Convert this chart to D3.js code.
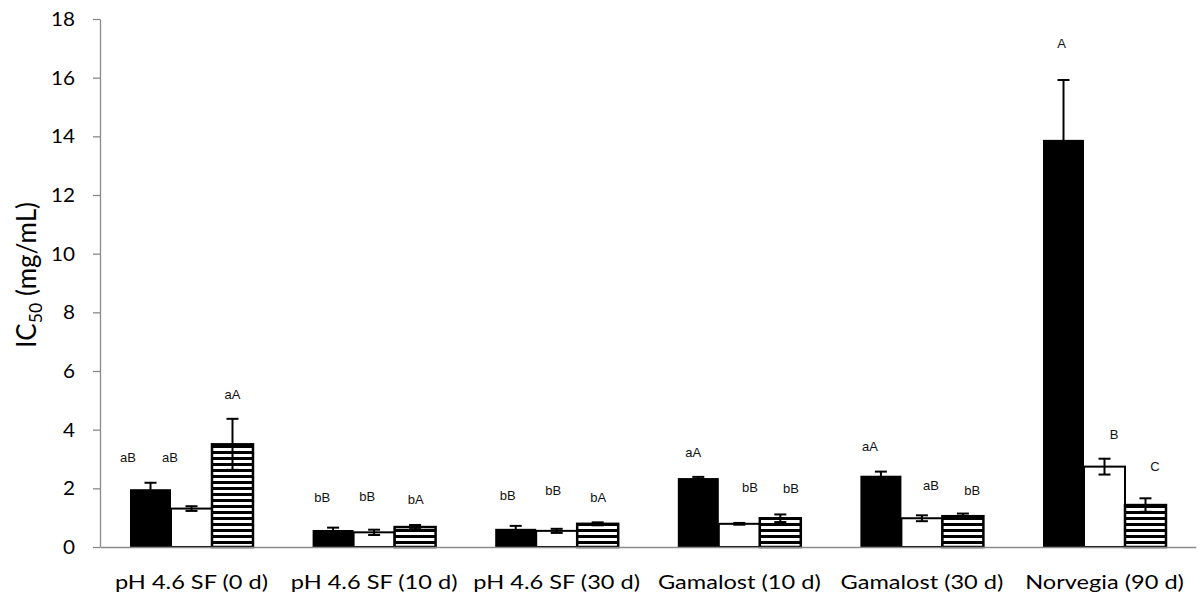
<!DOCTYPE html>
<html>
<head>
<meta charset="utf-8">
<script src="https://cdn.jsdelivr.net/npm/d3@7"></script>
<style>
  html, body { margin: 0; padding: 0; background: #fff; }
  svg { display: block; }
</style>
</head>
<body>
<svg id="chart" width="1201" height="605"></svg>
<script>
// ---- data -------------------------------------------------------------
const categories = [
  "pH 4.6 SF (0 d)", "pH 4.6 SF (10 d)", "pH 4.6 SF (30 d)",
  "Gamalost (10 d)", "Gamalost (30 d)", "Norvegia (90 d)"
];
const seriesKeys = ["solid", "open", "hatched"];

// IC50 means (mg/mL) and their error bars
const solidValues   = [1.97, 0.58, 0.62, 2.35, 2.43, 13.88];
const solidErrors   = [0.22, 0.08, 0.10, 0.04, 0.14, 2.04];
const openValues    = [1.31, 0.50, 0.55, 0.79, 0.98, 2.74];
const openErrors    = [0.08, 0.09, 0.07, 0.03, 0.10, 0.27];
const hatchedValues = [3.50, 0.68, 0.79, 0.98, 1.05, 1.43];
const hatchedErrors = [0.87, 0.07, 0.05, 0.13, 0.09, 0.23];

// significance letters above each bar
const solidLetters   = ["aB", "bB", "bB", "aA", "aA", "A"];
const openLetters    = ["aB", "bB", "bB", "bB", "aB", "B"];
const hatchedLetters = ["aA", "bA", "bA", "bB", "bB", "C"];

const yTicks = [0, 2, 4, 6, 8, 10, 12, 14, 16, 18];

// ---- letter placement (height in mg/mL, horizontal nudge in px) --------
const solidLetterAt   = [3.05, 1.68, 1.75, 3.21, 3.44, 17.17];
const openLetterAt    = [3.05, 1.72, 1.94, 2.03, 2.08, 3.85];
const hatchedLetterAt = [5.20, 1.63, 1.69, 2.01, 1.94, 2.76];
const solidLetterDx   = [-22.5, -10.8, -8.0, -5.0, -10.9, -1.8];
const openLetterDx    = [-21.5, -6.8, -3.4, 10.7, 9.0, 9.5];
const hatchedLetterDx = [0.0, 0.6, 0.6, 10.7, 9.4, 9.5];

// ---- setup ------------------------------------------------------------
const svg = d3.select("#chart");
const AXIS_GREY = "#8a8a8a";
const TICK_FONT = "Lato, 'Open Sans', sans-serif";
const LETTER_FONT = "'Liberation Sans', Arial, sans-serif";

const y = d3.scaleLinear().domain([0, 18]).range([547, 19]);
const x0 = d3.scaleBand().domain(categories).range([100.2, 1195.8]);
const x1 = d3.scaleBand().domain(seriesKeys).range([0, x0.bandwidth()])
  .paddingInner(0).paddingOuter(0.727);

const series = [
  { key: "solid",   values: solidValues,   errors: solidErrors,   letters: solidLetters,   at: solidLetterAt,   dx: solidLetterDx,   fill: "#000", stroke: "none", sw: 0 },
  { key: "open",    values: openValues,    errors: openErrors,    letters: openLetters,    at: openLetterAt,    dx: openLetterDx,    fill: "#fff", stroke: "#000", sw: 2 },
  { key: "hatched", values: hatchedValues, errors: hatchedErrors, letters: hatchedLetters, at: hatchedLetterAt, dx: hatchedLetterDx, fill: "url(#hstripe)", stroke: "#000", sw: 2.5 }
];

// horizontal stripe fill
const defs = svg.append("defs");
const pat = defs.append("pattern")
  .attr("id", "hstripe")
  .attr("patternUnits", "userSpaceOnUse")
  .attr("width", 10).attr("height", 6)
  .attr("y", y(0));
pat.append("rect").attr("width", 10).attr("height", 6).attr("fill", "#fff");
pat.append("rect").attr("y", 0).attr("width", 10).attr("height", 3).attr("fill", "#000");

// ---- bars -------------------------------------------------------------
const rows = series.flatMap(s => categories.map((c, i) => ({
  s, cat: c, v: s.values[i], e: s.errors[i], letter: s.letters[i], at: s.at[i], dx: s.dx[i]
})));

const barG = svg.append("g").attr("class", "bars");
series.forEach(s => {
  barG.selectAll(null)
    .data(rows.filter(r => r.s === s))
    .join("rect")
    .attr("x", d => x0(d.cat) + x1(s.key))
    .attr("y", d => y(d.v))
    .attr("width", x1.bandwidth())
    .attr("height", d => y(0) - y(d.v))
    .attr("fill", s.fill)
    .attr("stroke", s.stroke)
    .attr("stroke-width", s.sw);
});

// ---- error bars -------------------------------------------------------
const cx = d => x0(d.cat) + x1(d.s.key) + x1.bandwidth() / 2;
const CAP = 6;
const errG = svg.append("g").attr("class", "errors")
  .attr("stroke", "#000").attr("stroke-width", 2).attr("fill", "none");
const eb = errG.selectAll("g").data(rows).join("g");
eb.append("line")
  .attr("x1", cx).attr("x2", cx)
  .attr("y1", d => y(d.v + d.e)).attr("y2", d => y(Math.max(0, d.v - d.e)));
eb.append("line")
  .attr("x1", d => cx(d) - CAP).attr("x2", d => cx(d) + CAP)
  .attr("y1", d => y(d.v + d.e)).attr("y2", d => y(d.v + d.e));
eb.append("line")
  .attr("x1", d => cx(d) - CAP).attr("x2", d => cx(d) + CAP)
  .attr("y1", d => y(Math.max(0, d.v - d.e))).attr("y2", d => y(Math.max(0, d.v - d.e)));

// ---- letters ----------------------------------------------------------
svg.append("g").attr("class", "letters")
  .selectAll("text").data(rows).join("text")
  .attr("x", d => cx(d) + d.dx)
  .attr("y", d => y(d.at))
  .attr("text-anchor", "middle")
  .attr("dominant-baseline", "central")
  .attr("font-family", LETTER_FONT)
  .attr("font-size", 13)
  .attr("fill", "#111")
  .text(d => d.letter);

// ---- axes -------------------------------------------------------------
const yAxisG = svg.append("g")
  .attr("transform", `translate(100,0)`)
  .call(d3.axisLeft(y).tickValues(yTicks).tickSize(7).tickPadding(18).tickSizeOuter(0));
yAxisG.select(".domain").attr("stroke", AXIS_GREY).attr("stroke-width", 1.3);
yAxisG.selectAll(".tick line").attr("stroke", AXIS_GREY).attr("stroke-width", 1.3);
yAxisG.selectAll(".tick text")
  .attr("font-family", TICK_FONT).attr("font-size", 20).attr("fill", "#000");

const xAxisG = svg.append("g")
  .attr("transform", `translate(0,${y(0)})`)
  .call(d3.axisBottom(x0).tickSize(0).tickPadding(28).tickSizeOuter(0));
xAxisG.select(".domain").attr("stroke", AXIS_GREY).attr("stroke-width", 1.3);
xAxisG.selectAll(".tick text")
  .attr("font-family", TICK_FONT).attr("font-size", 19.5).attr("fill", "#000");

// widen tick text to the chart's wide lettering
function stretch(sel, factor) {
  sel.each(function () {
    const w = this.getComputedTextLength();
    d3.select(this).attr("textLength", w * factor).attr("lengthAdjust", "spacingAndGlyphs");
  });
}
const catFirst = xAxisG.select(".tick text").node();
stretch(xAxisG.selectAll(".tick text"), 153 / catFirst.getComputedTextLength());
const yTop = yAxisG.selectAll(".tick text").filter(d => d === 18).node();
stretch(yAxisG.selectAll(".tick text"), 24 / yTop.getComputedTextLength());

// y title with subscript
const title = svg.append("text")
  .attr("font-family", TICK_FONT)
  .attr("font-size", 22)
  .attr("fill", "#000")
  .attr("text-anchor", "middle");
title.append("tspan").text("IC");
title.append("tspan").attr("font-size", 15).attr("dy", 5).text("50");
title.append("tspan").attr("dy", -5).text(" (mg/mL)");
const tLen = title.node().getComputedTextLength();
title.attr("transform", `translate(36,275) rotate(-90) scale(${146 / tLen},1.2)`);
</script>
</body>
</html>
